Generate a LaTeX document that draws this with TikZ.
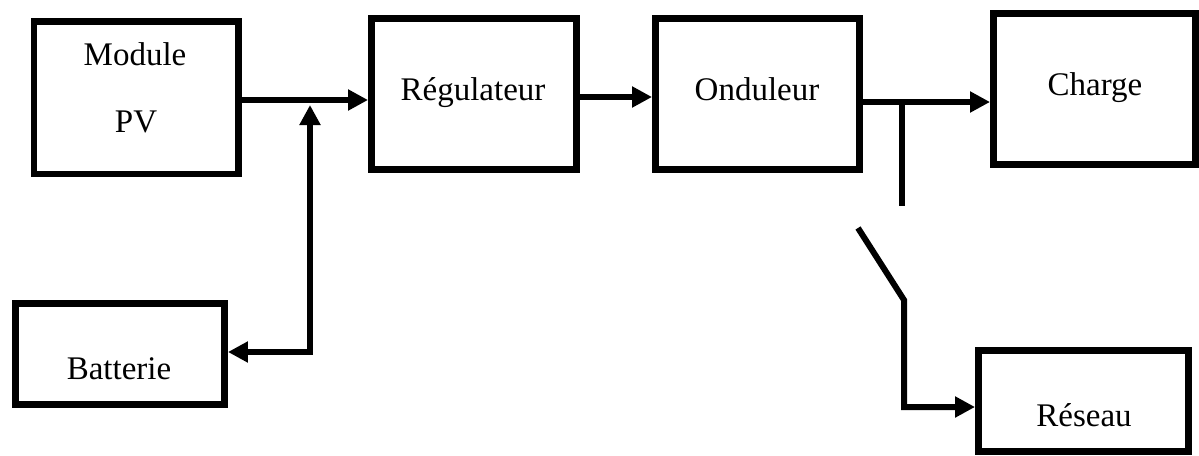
\documentclass[tikz,border=0pt]{standalone}
\usepackage{fontspec}
\setmainfont{Liberation Serif}
\usetikzlibrary{arrows.meta}
\begin{document}
\begin{tikzpicture}[x=1pt,y=-1pt,
  box/.style={draw, line width=6.5pt, rectangle, inner sep=0pt},
  lbl/.style={anchor=base, inner sep=0pt, font=\fontsize{33}{40}\selectfont},
  wire/.style={line width=6pt},
  arr/.style={wire, -{Triangle[length=20pt,width=20pt]}},
  darr/.style={wire, {Triangle[length=20pt,width=20pt]}-{Triangle[length=20pt,width=20pt]}}
]
\useasboundingbox (0,0) rectangle (1199,455);
% boxes
\node[box, minimum width=204.5pt, minimum height=152.3pt] (pv) at (136.25,97.65) {};
\node[box, minimum width=205.4pt, minimum height=151.4pt] (reg) at (474,94) {};
\node[box, minimum width=204.4pt, minimum height=151.4pt] (ond) at (757.5,94) {};
\node[box, minimum width=202.4pt, minimum height=151.4pt] (chg) at (1094.5,89) {};
\node[box, minimum width=209.4pt, minimum height=101.4pt] (bat) at (120,354) {};
\node[box, minimum width=210.4pt, minimum height=101.4pt] (res) at (1083.5,401) {};
% labels
\node[lbl] (tmod) at (135,65) {Module};
\node[lbl] (tpv) at (136,132) {PV};
\node[lbl] (treg) at (473,100) {Régulateur};
\node[lbl] (tond) at (757,100) {Onduleur};
\node[lbl] (tchg) at (1095,95) {Charge};
\node[lbl] (tbat) at (119,379) {Batterie};
\node[lbl] (tres) at (1084,426) {Réseau};
% coordinates
\coordinate (j1) at (310,100);
\coordinate (jt) at (310,105);
\coordinate (jb) at (310,352);
\coordinate (j2) at (902,102);
\coordinate (stubend) at (902,206);
\coordinate (swa) at (858,228);
\coordinate (swb) at (904,300);
\coordinate (swc) at (904,407);
% connectors
\draw[arr] (pv.east |- j1) -- (reg.west |- j1);
\draw[darr] (jt) -- (jb) -- (bat.east |- jb);
\draw[arr] (reg.east |- 0,97) -- (ond.west |- 0,97);
\draw[arr] (ond.east |- j2) -- (chg.west |- j2);
\draw[wire] (j2) -- (stubend);
\draw[arr] (swa) -- (swb) -- (swc) -- (res.west |- swc);
\end{tikzpicture}
\end{document}
